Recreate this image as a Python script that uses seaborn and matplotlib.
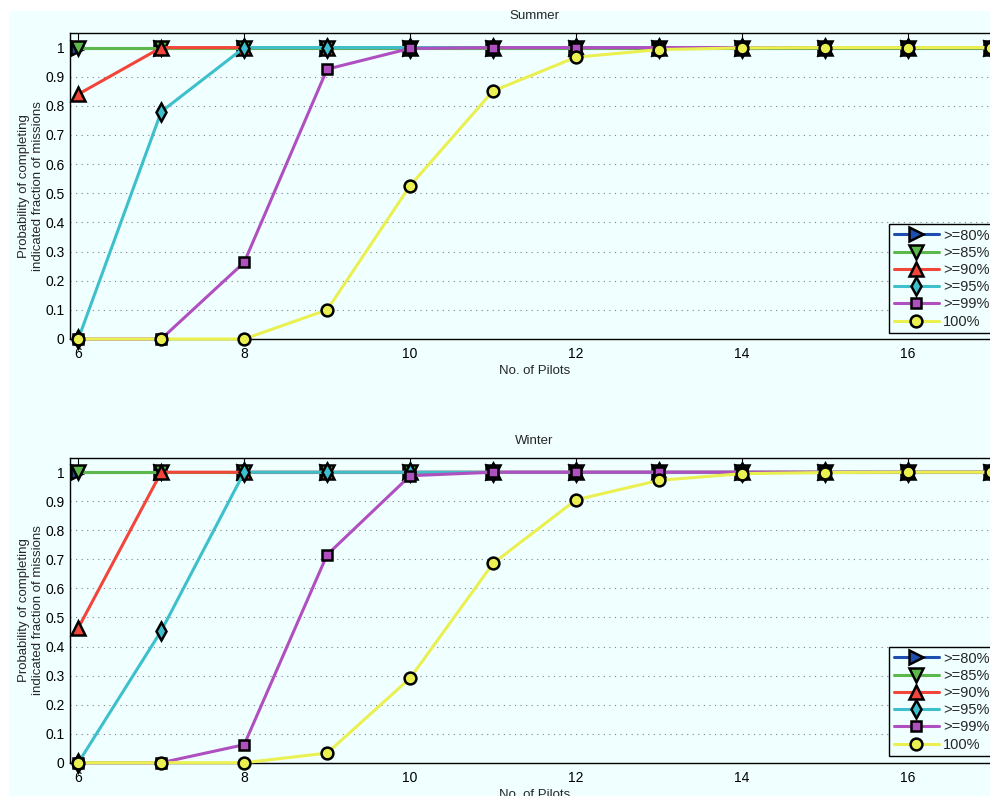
import numpy as np
import pandas as pd
import matplotlib
matplotlib.use("Agg")
import matplotlib.pyplot as plt
from matplotlib.patches import Rectangle
import seaborn as sns

pilots = [6, 7, 8, 9, 10, 11, 12, 13, 14, 15, 16, 17]
labels = [">=80%", ">=85%", ">=90%", ">=95%", ">=99%", "100%"]

summer_80 = [1, 1, 1, 1, 1, 1, 1, 1, 1, 1, 1, 1]
summer_85 = [1, 1, 1, 1, 1, 1, 1, 1, 1, 1, 1, 1]
summer_90 = [0.84, 1, 1, 1, 1, 1, 1, 1, 1, 1, 1, 1]
summer_95 = [0.0, 0.78, 1, 1, 1, 1, 1, 1, 1, 1, 1, 1]
summer_99 = [0.0, 0.0, 0.263, 0.926, 0.997, 1, 1, 1, 1, 1, 1, 1]
summer_100 = [0.0, 0.0, 0.0, 0.10, 0.526, 0.851, 0.967, 0.993, 0.999, 1, 1, 1]

winter_80 = [1, 1, 1, 1, 1, 1, 1, 1, 1, 1, 1, 1]
winter_85 = [1, 1, 1, 1, 1, 1, 1, 1, 1, 1, 1, 1]
winter_90 = [0.464, 1, 1, 1, 1, 1, 1, 1, 1, 1, 1, 1]
winter_95 = [0.0, 0.454, 1, 1, 1, 1, 1, 1, 1, 1, 1, 1]
winter_99 = [0.0, 0.0, 0.062, 0.716, 0.988, 1, 1, 1, 1, 1, 1, 1]
winter_100 = [0.0, 0.0, 0.0, 0.033, 0.291, 0.686, 0.905, 0.972, 0.995, 0.999, 1, 1]

titles = ["Summer", "Winter"]
x_ticks = [6, 8, 10, 12, 14, 16]
y_ticks = [0, 0.1, 0.2, 0.3, 0.4, 0.5, 0.6, 0.7, 0.8, 0.9, 1]

colors = ["#1c4fb0", "#5cb84a", "#f2463a", "#3ec0cc", "#b04fbf", "#eaf050"]
markers = [">", "v", "^", "d", "s", "o"]
msizes = [9.5, 9.5, 9.5, 9, 7, 8.5]

sns.set_style("white")
plt.rcParams["font.family"] = ["Liberation Sans", "DejaVu Sans"]

bg = "#f0ffff"
fig = plt.figure(figsize=(9.9, 7.96), dpi=100, facecolor="white")
fig.patches.append(Rectangle((9 / 990, 0), 1, (796 - 11) / 796, transform=fig.transFigure,
                             facecolor=bg, edgecolor="none", zorder=-10))

ax_pos = [
    [70 / 990, (796 - 339) / 796, (999 - 70) / 990, (339 - 33) / 796],
    [70 / 990, (796 - 762.7) / 796, (999 - 70) / 990, (762.7 - 457.7) / 796],
]
leg_bottoms = [(796 - 333) / 796, (796 - 756) / 796]
datasets = [
    [summer_80, summer_85, summer_90, summer_95, summer_99, summer_100],
    [winter_80, winter_85, winter_90, winter_95, winter_99, winter_100],
]

for pos, lb, title, series in zip(ax_pos, leg_bottoms, titles, datasets):
    ax = fig.add_axes(pos)
    ax.set_facecolor(bg)
    for lab, vals, c, m, ms in zip(labels, series, colors, markers, msizes):
        df = pd.DataFrame({"pilots": pilots, "p": vals})
        sns.lineplot(data=df, x="pilots", y="p", ax=ax, color=c, linewidth=2.2,
                     marker=m, markersize=ms, markeredgecolor="black",
                     markeredgewidth=1.8, markerfacecolor=c, label=lab,
                     clip_on=False, zorder=3)
    ax.set_xlim(5.9, 17.1)
    ax.set_ylim(0, 1.05)
    ax.set_xticks(x_ticks)
    ax.set_xticklabels([str(t) for t in x_ticks])
    ax.set_yticks(y_ticks)
    ax.set_yticklabels(["0", "0.1", "0.2", "0.3", "0.4", "0.5", "0.6", "0.7", "0.8", "0.9", "1"])
    ax.tick_params(direction="in", top=True, right=True, length=5, width=0.8,
                   labelsize=10, colors="black")
    ax.tick_params(axis="x", pad=6)
    ax.tick_params(axis="y", pad=4)
    for s in ax.spines.values():
        s.set_visible(True)
        s.set_color("black")
        s.set_linewidth(1.0)
    ax.yaxis.grid(True, linestyle=(0, (1, 4)), color="#808080", linewidth=0.8)
    ax.xaxis.grid(False)
    ax.set_axisbelow(True)
    ax.set_title(title, fontsize=9.5, pad=10)
    ax.set_xlabel("No. of Pilots", fontsize=9.5, labelpad=3)
    ax.set_ylabel("Probability of completing\nindicated fraction of missions", fontsize=9.5,
                  labelpad=1)
    leg = ax.legend(loc="lower right", bbox_to_anchor=(1.004, lb),
                    bbox_transform=fig.transFigure, fontsize=10.5,
                    frameon=True, fancybox=False, handlelength=3.1, borderpad=0.3,
                    labelspacing=0.22, handletextpad=0.3, borderaxespad=0)
    leg.get_frame().set_edgecolor("black")
    leg.get_frame().set_facecolor(bg)
    leg.get_frame().set_linewidth(1.0)
    leg.get_frame().set_alpha(1)

fig.savefig("out.png", dpi=100, facecolor="white")
